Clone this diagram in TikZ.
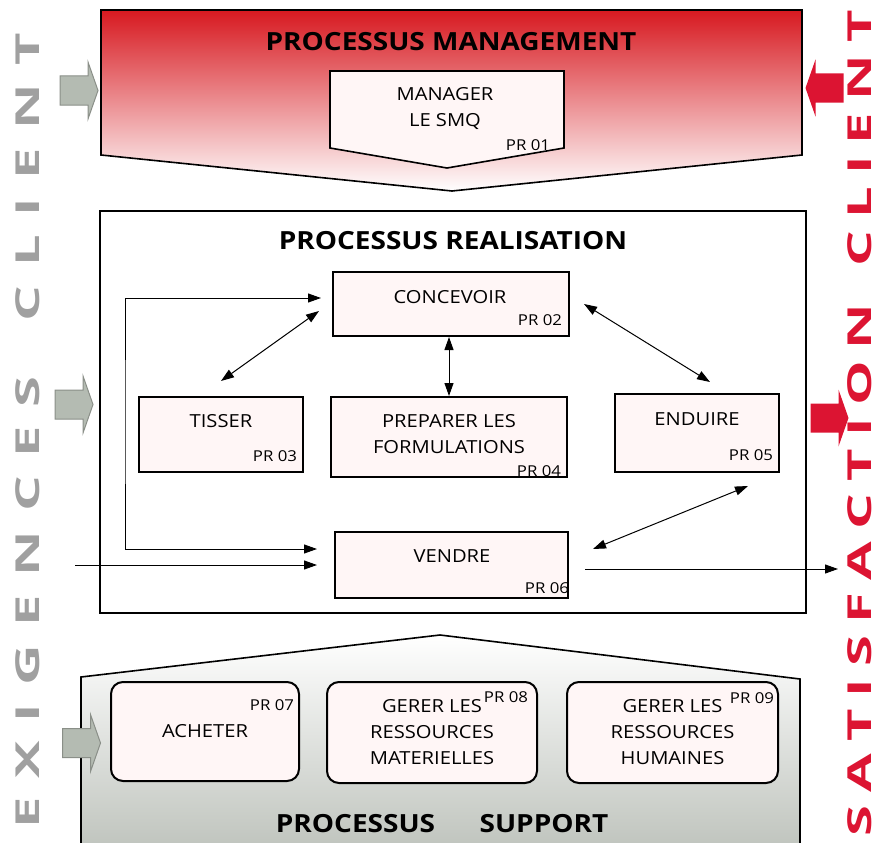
\documentclass[tikz,border=0pt]{standalone}
\usepackage{fontspec}
\setmainfont[FakeStretch=1.12]{Open Sans}
\newfontfamily\sidefont[FakeStretch=1.7]{Open Sans}
\usetikzlibrary{arrows.meta}

\definecolor{mgred}{HTML}{D71920}
\definecolor{boxpink}{HTML}{FFF6F6}
\definecolor{supgray}{HTML}{BCC1BA}
\definecolor{arrgray}{HTML}{B4BBB2}
\definecolor{arrgrayline}{HTML}{8A8F88}
\definecolor{sidegray}{HTML}{A0A0A0}
\definecolor{sidered}{HTML}{DC1432}

\tikzset{
  proc/.style={draw, line width=2pt, fill=boxpink, inner sep=0pt},
  supp/.style={proc, rounded corners=12pt, align=center, font=\fontsize{18}{26}\selectfont},
  boxtext/.style={font=\fontsize{18}{26}\selectfont, align=center},
  prtag/.style={font=\fontsize{15}{15}\selectfont, inner sep=0pt},
  heading/.style={font=\fontsize{25}{25}\selectfont\bfseries},
  sidetext/.style={rotate=90, inner sep=0pt, font=\sidefont\fontsize{33}{33}\selectfont\bfseries},
  link/.style={line width=1pt},
  blockarrow/.pic={
    \path[pic actions] (-19,-14.5) -- (9,-14.5) -- (9,-28.5) -- (19,0)
      -- (9,28.5) -- (9,14.5) -- (-19,14.5) -- cycle;
  }
}

\begin{document}
\begin{tikzpicture}[x=1pt, y=-1pt, >={Triangle[length=13pt,width=9pt]}]
        % Page
        \path[use as bounding box, clip] (0,0) rectangle (881,843);
        % Draw management process
        \draw[line width=1.6pt, top color=mgred, bottom color=white] (101,10) -- (802,10) -- (802,155) -- (452,191) -- (101,155) -- cycle;
        \node[heading] (mgmt) at (451,42) {PROCESSUS MANAGEMENT};
        \draw[line width=1.6pt, fill=boxpink] (330,71) -- (564,71) -- (564,148) -- (447,168) -- (330,148) -- cycle;
        \node[boxtext] (smq) at (445,109) {MANAGER\\LE SMQ};
        \node[prtag] (pr01) at (528,145) {PR 01};
        % Draw realisation process
        \draw[line width=2pt] (100,211) rectangle (806,613);
        \node[heading] (real) at (453,241) {PROCESSUS REALISATION};
        \node[proc, minimum width=236pt, minimum height=64pt] (concevoir) at (451,304) {};
        \node[boxtext] (concevoir-txt) at (450,297) {CONCEVOIR};
        \node[prtag] (pr02) at (540,320) {PR 02};
        \node[proc, minimum width=164pt, minimum height=75pt] (tisser) at (221,434.5) {};
        \node[boxtext] (tisser-txt) at (221,421) {TISSER};
        \node[prtag] (pr03) at (275,456) {PR 03};
        \node[proc, minimum width=236pt, minimum height=80pt] (preparer) at (449,437) {};
        \node[boxtext] (preparer-txt) at (449,434) {PREPARER LES\\FORMULATIONS};
        \node[prtag] (pr04) at (539,471) {PR 04};
        \node[proc, minimum width=164pt, minimum height=78pt] (enduire) at (697,433) {};
        \node[boxtext] (enduire-txt) at (697,419) {ENDUIRE};
        \node[prtag] (pr05) at (751,455) {PR 05};
        \node[proc, minimum width=233pt, minimum height=66pt] (vendre) at (451.5,565) {};
        \node[boxtext] (vendre-txt) at (452,556) {VENDRE};
        \node[prtag] (pr06) at (547,588) {PR 06};
        % Draw links
        \draw[link, <->] ([yshift=15pt]tisser.north) -- ([xshift=-13pt,yshift=-7pt]concevoir.west);
        \draw[link, <->] (preparer.north |- concevoir.south) -- (preparer.north);
        \draw[link, <->] ([xshift=14pt]concevoir.east) -- ([xshift=13pt,yshift=11pt]enduire.north);
        \draw[link, <->] ([xshift=51pt,yshift=-13pt]enduire.south) -- ([xshift=24pt,yshift=16pt]vendre.east);
        \coordinate (bend) at (125,420);
        \draw[link, <->] ([xshift=-11pt,yshift=6pt]concevoir.west) -| (bend) |- ([xshift=-17pt,yshift=16pt]vendre.west);
        \coordinate (input) at (75,565);
        \draw[link, ->] (input) -- ([xshift=-17pt]vendre.west);
        \coordinate (output) at (838,569);
        \draw[link, ->] ([xshift=16pt,yshift=-4pt]vendre.east) -- (output);
        % Draw support process
        \draw[line width=1.6pt, top color=white, bottom color=supgray] (81,860) -- (81,677) -- (440,635) -- (800,679) -- (800,860) -- cycle;
        \node[supp, minimum width=188pt, minimum height=99pt] (acheter) at (205,731.5) {ACHETER};
        \node[prtag] (pr07) at (272,705) {PR 07};
        \node[supp, minimum width=210pt, minimum height=101pt] (materiel) at (432,732.5) {GERER LES\\RESSOURCES\\MATERIELLES};
        \node[prtag] (pr08) at (506,697.5) {PR 08};
        \node[supp, minimum width=211pt, minimum height=101pt] (humaines) at (672.5,732.5) {GERER LES\\RESSOURCES\\HUMAINES};
        \node[prtag] (pr09) at (752,698) {PR 09};
        \node[heading] (supp1) at (355.5,824) {PROCESSUS};
        \node[heading] (supp2) at (544,824) {SUPPORT};
        % Draw client arrows
        \pic[fill=arrgray, draw=arrgrayline, line width=1pt] at (79,90.5) {blockarrow};
        \pic[fill=arrgray, draw=arrgrayline, line width=1pt] at (74,404.5) {blockarrow};
        \pic[fill=arrgray, draw=arrgrayline, line width=1pt] at (81.5,743) {blockarrow};
        \pic[fill=sidered, rotate=180] at (824.5,88) {blockarrow};
        \pic[fill=sidered] at (829.5,418) {blockarrow};
        % Side labels
        \node[sidetext, text=sidegray] (exigences) at (28,430.5) {\makebox[796pt]{E\hfill X\hfill I\hfill G\hfill E\hfill N\hfill C\hfill E\hfill S\hfill\hfill\hfill C\hfill L\hfill I\hfill E\hfill N\hfill T}};
        \node[sidetext, text=sidered] (satisfaction) at (860,423) {\makebox[826pt]{S\hfill A\hfill T\hfill I\hfill S\hfill F\hfill A\hfill C\hfill T\hfill I\hfill O\hfill N\hfill\hfill\hfill C\hfill L\hfill I\hfill E\hfill N\hfill T}};
    \end{tikzpicture}
\end{document}
